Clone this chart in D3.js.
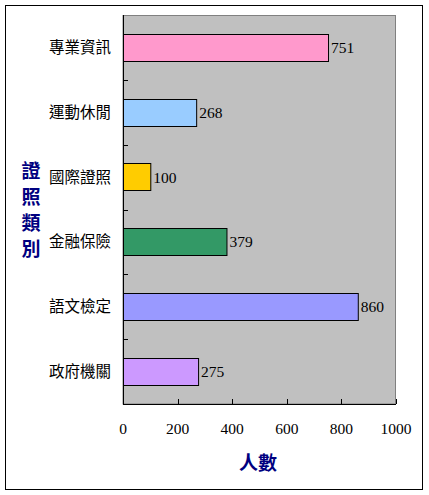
<!DOCTYPE html>
<html>
<head>
<meta charset="utf-8">
<script src="https://cdn.jsdelivr.net/npm/d3@7"></script>
<style>
  body { margin: 0; background: #fff; }
  svg { display: block; }
</style>
</head>
<body>
<svg id="chart"></svg>
<script>
const categories = ['專業資訊', '運動休閒', '國際證照', '金融保險', '語文檢定', '政府機關'];
const counts = [751, 268, 100, 379, 860, 275];
const barColors = ['#FF99CC', '#99CCFF', '#FFCC00', '#339966', '#9999FF', '#CC99FF'];
const xTicks = [0, 200, 400, 600, 800, 1000];
const yTitle = ['證', '照', '類', '別'];
const xTitle = '人數';

const W = 429, H = 495;
const plot = { left: 123, top: 15, right: 396, bottom: 404 };

const svg = d3.select('#chart')
    .attr('width', W)
    .attr('height', H);

// outer frame
svg.append('rect')
    .attr('x', 5.5).attr('y', 5.5)
    .attr('width', 417).attr('height', 484)
    .attr('fill', '#fff')
    .attr('stroke', '#000')
    .attr('stroke-width', 1);

const x = d3.scaleLinear()
    .domain([0, 1000])
    .range([plot.left, plot.right]);

const y = d3.scaleBand()
    .domain(categories)
    .range([plot.top, plot.bottom])
    .paddingInner(0.58)
    .paddingOuter(0.29);

const yEdge = d3.scaleLinear()
    .domain([0, categories.length])
    .range([plot.top, plot.bottom]);

// plot area
svg.append('rect')
    .attr('x', plot.left).attr('y', plot.top + 0.5)
    .attr('width', plot.right - plot.left - 0.5)
    .attr('height', plot.bottom - plot.top - 0.5)
    .attr('fill', '#C0C0C0')
    .attr('stroke', '#808080')
    .attr('stroke-width', 1);

// bars
svg.append('g')
    .selectAll('rect')
    .data(categories)
    .join('rect')
    .attr('x', x(0) + 0.5)
    .attr('y', d => Math.round(y(d)) + 0.5)
    .attr('width', (d, i) => x(counts[i]) - x(0))
    .attr('height', Math.round(y.bandwidth()))
    .attr('fill', (d, i) => barColors[i])
    .attr('stroke', '#000')
    .attr('stroke-width', 1);

// value labels
svg.append('g')
    .selectAll('text')
    .data(categories)
    .join('text')
    .attr('x', (d, i) => x(counts[i]) + 3)
    .attr('y', d => y(d) + y.bandwidth() / 2)
    .attr('dy', '0.36em')
    .attr('font-family', '"Liberation Serif", serif')
    .attr('font-size', 15.5)
    .attr('fill', '#000')
    .text((d, i) => counts[i]);

// category ticks (inward, at band edges)
svg.append('g')
    .selectAll('line')
    .data(d3.range(1, categories.length))
    .join('line')
    .attr('x1', plot.left).attr('x2', plot.left + 5)
    .attr('y1', d => Math.round(yEdge(d)) + 0.5)
    .attr('y2', d => Math.round(yEdge(d)) + 0.5)
    .attr('stroke', '#000');

// x ticks (inward)
svg.append('g')
    .selectAll('line')
    .data(xTicks)
    .join('line')
    .attr('x1', d => Math.round(x(d)) + 0.5)
    .attr('x2', d => Math.round(x(d)) + 0.5)
    .attr('y1', plot.bottom).attr('y2', plot.bottom - 5)
    .attr('stroke', '#000');

// axis lines
svg.append('line')
    .attr('x1', plot.left + 0.5).attr('x2', plot.left + 0.5)
    .attr('y1', plot.top).attr('y2', plot.bottom + 0.5)
    .attr('stroke', '#000');
svg.append('line')
    .attr('x1', plot.left).attr('x2', plot.right)
    .attr('y1', plot.bottom + 0.5).attr('y2', plot.bottom + 0.5)
    .attr('stroke', '#000');

// category labels
svg.append('g')
    .selectAll('text')
    .data(categories)
    .join('text')
    .attr('x', 111)
    .attr('y', d => y(d) + y.bandwidth() / 2)
    .attr('dy', '0.36em')
    .attr('text-anchor', 'end')
    .attr('font-family', '"Noto Sans CJK TC", sans-serif')
    .attr('font-size', 15.5)
    .attr('fill', '#000')
    .text(d => d);

// x tick labels
svg.append('g')
    .selectAll('text')
    .data(xTicks)
    .join('text')
    .attr('x', d => x(d))
    .attr('y', 428)
    .attr('dy', '0.36em')
    .attr('text-anchor', 'middle')
    .attr('font-family', '"Liberation Serif", serif')
    .attr('font-size', 15.5)
    .attr('fill', '#000')
    .text(d => d);

// x title
svg.append('text')
    .attr('x', 258)
    .attr('y', 463)
    .attr('dy', '0.36em')
    .attr('text-anchor', 'middle')
    .attr('font-family', '"Noto Sans CJK TC", sans-serif')
    .attr('font-size', 19)
    .attr('font-weight', 'bold')
    .attr('fill', '#000080')
    .text(xTitle);

// y title, stacked
svg.append('g')
    .selectAll('text')
    .data(yTitle)
    .join('text')
    .attr('x', 31)
    .attr('y', (d, i) => 171 + i * 26)
    .attr('dy', '0.36em')
    .attr('text-anchor', 'middle')
    .attr('font-family', '"Noto Sans CJK TC", sans-serif')
    .attr('font-size', 19)
    .attr('font-weight', 'bold')
    .attr('fill', '#000080')
    .text(d => d);
</script>
</body>
</html>
